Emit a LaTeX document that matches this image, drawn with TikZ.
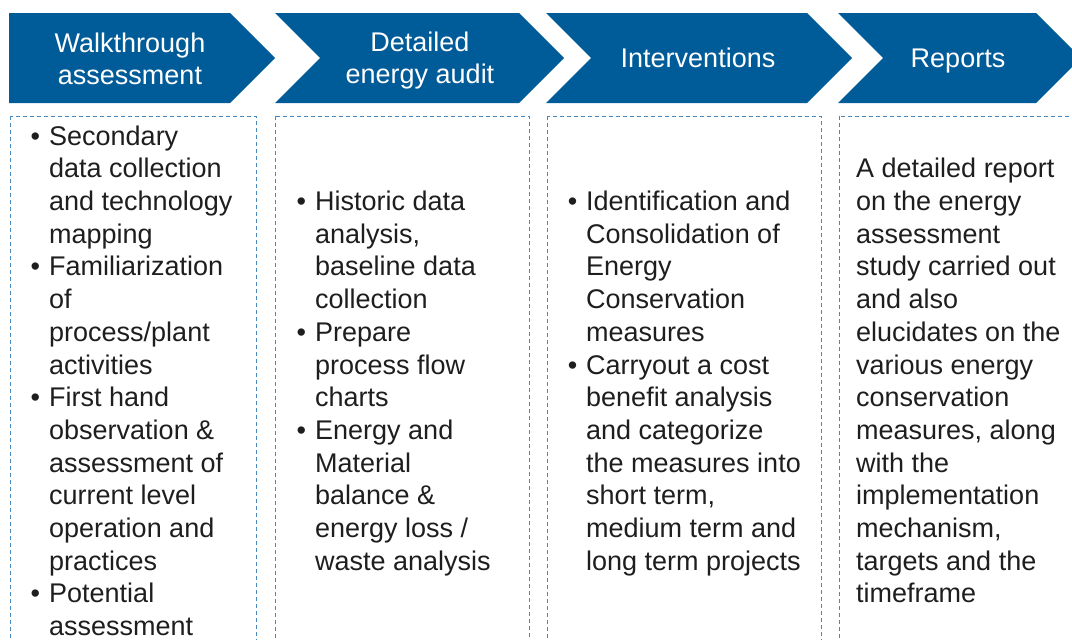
\documentclass[tikz,border=0pt]{standalone}
\usepackage{fontspec}
\setmainfont{Liberation Sans}
\usetikzlibrary{positioning}
\definecolor{hdrblue}{RGB}{0,91,153}
\definecolor{boxblue}{RGB}{70,135,190}
\definecolor{bodygray}{RGB}{30,30,30}
% bullet hung into the left margin
\newcommand{\bul}{\llap{\textbullet\hspace{9pt}}}

\begin{document}
\begin{tikzpicture}[
    x=1pt,y=-1pt,
    hdr/.style={fill=hdrblue},
    hdrtext/.style={text=white,align=center,font=\fontsize{27}{32}\selectfont},
    box/.style={draw=boxblue,line width=1pt,dash pattern=on 4pt off 3pt},
    body/.style={text=bodygray,align=left,anchor=north west,inner sep=0pt,
        font=\fontsize{27}{32.7}\selectfont}]
    \useasboundingbox (0,0) rectangle (1072,640);
    \clip (0,0) rectangle (1072,640);

    % chevrons
    \fill[hdr] (9,13) -- (230,13) -- (275,58) -- (230,103) -- (9,103) -- cycle;
    \fill[hdr] (275,13) -- (519,13) -- (564,58) -- (519,103) -- (275,103) -- (320,58) -- cycle;
    \fill[hdr] (546,13) -- (807,13) -- (852,58) -- (807,103) -- (546,103) -- (591,58) -- cycle;
    \fill[hdr] (838,13) -- (1036,13) -- (1081,58) -- (1036,103) -- (838,103) -- (883,58) -- cycle;

    \node[hdrtext] (walk) at (130,59) {Walkthrough\\assessment};
    \node[hdrtext] (audit) at (420,61) {Detailed\\energy audit};
    \node[hdrtext] (interv) at (698,58) {Interventions};
    \node[hdrtext] (reports) at (958,61) {Reports};

    % dotted columns
    \draw[box] (10,116) rectangle (256,680);
    \draw[box] (275,116) rectangle (529,680);
    \draw[box] (547,116) rectangle (821,680);
    \draw[box] (839,116) rectangle (1090,680);

    \node[body] (walktxt) at (49,125.4) {\bul Secondary\\data collection\\and technology\\mapping\\
        \bul Familiarization\\of\\process/plant\\activities\\
        \bul First hand\\observation \&\\assessment of\\current level\\operation and\\practices\\
        \bul Potential\\assessment};
    \node[body] (audittxt) at (315,190.8) {\bul Historic data\\analysis,\\baseline data\\collection\\
        \bul Prepare\\process flow\\charts\\
        \bul Energy and\\Material\\balance \&\\energy loss /\\waste analysis};
    \node[body] (intervtxt) at (586,190.8) {\bul Identification and\\Consolidation of\\Energy\\Conservation\\measures\\
        \bul Carryout a cost\\benefit analysis\\and categorize\\the measures into\\short term,\\medium term and\\long term projects};
    \node[body] (reporttxt) at (856,158.1) {A detailed report\\on the energy\\assessment\\study carried out\\and also\\elucidates on the\\various energy\\conservation\\measures, along\\with the\\implementation\\mechanism,\\targets and the\\timeframe};
\end{tikzpicture}
\end{document}
